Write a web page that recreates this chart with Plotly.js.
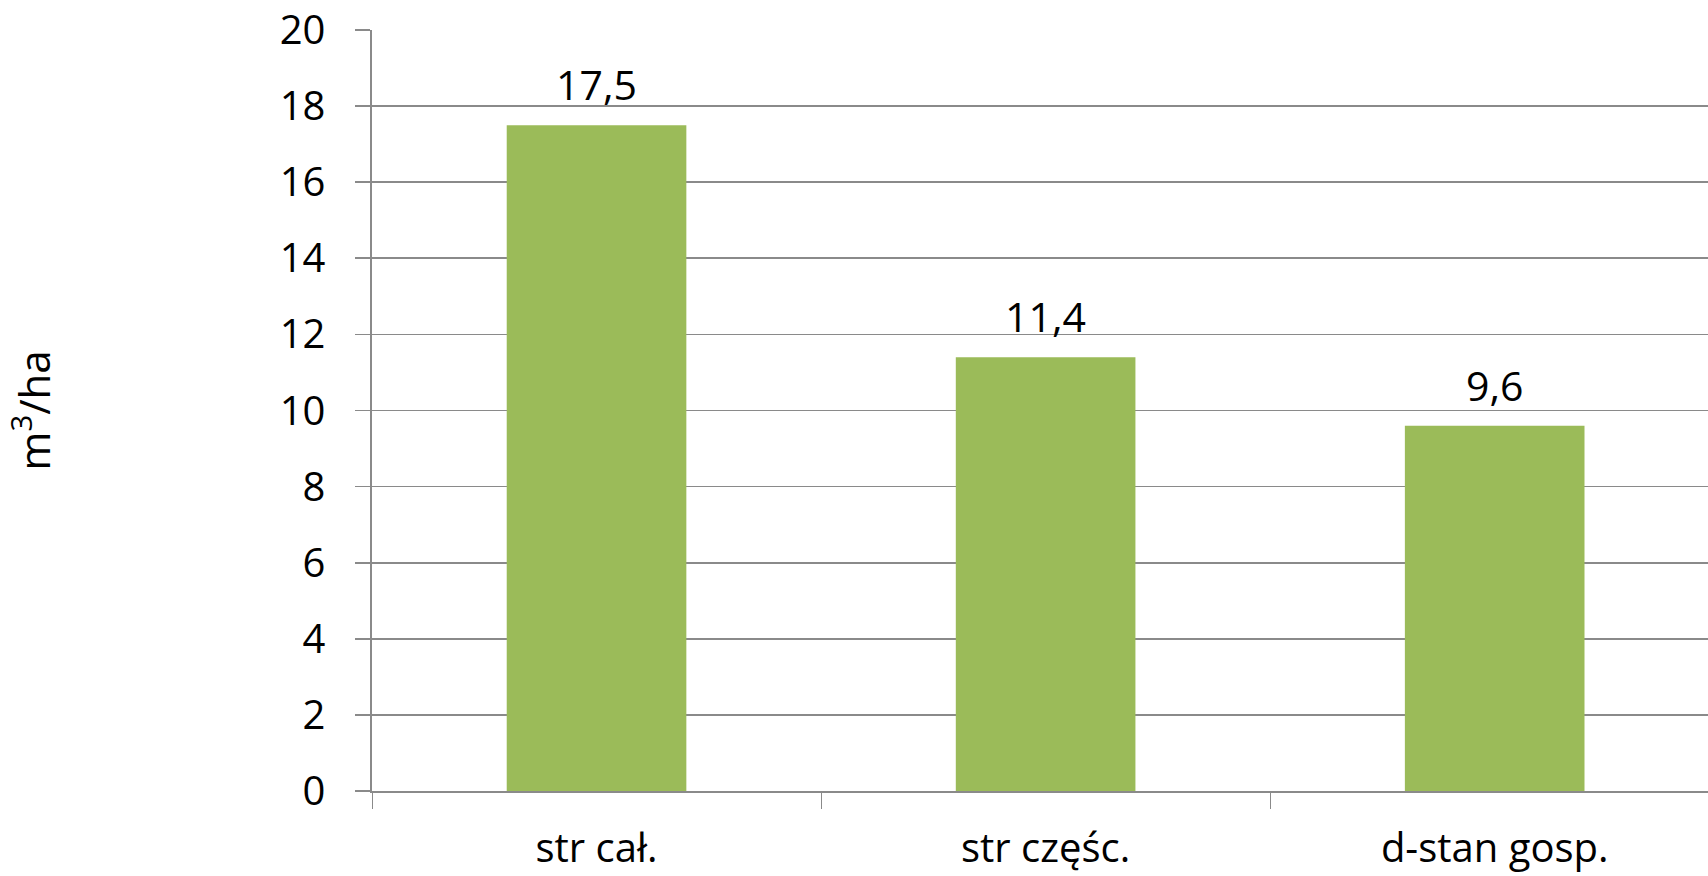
<!DOCTYPE html>
<html>
<head>
<meta charset="utf-8">
<script src="https://cdn.plot.ly/plotly-3.0.1.min.js"></script>
<style>html,body{margin:0;padding:0;background:#fff;}#chart{width:1708px;height:876px;}</style>
</head>
<body>
<div id="chart"></div>
<script>
const categories = ["str cał.", "str częśc.", "d-stan gosp."];
const values = [17.5, 11.4, 9.6];
const yTicks = [0, 2, 4, 6, 8, 10, 12, 14, 16, 18, 20];
const yTitle = "m<sup>3</sup>/ha";

const FONT = "Open Sans, sans-serif";
const GRID = "#8a8a8a";

const fmt = v => v.toFixed(1).replace(".", ",");

const trace = {
  type: "bar",
  x: categories,
  y: values,
  marker: {color: "#9BBB59"},
  width: 0.4,
  hoverinfo: "x+y"
};

const labelAnnotations = categories.map((c, i) => ({
  x: c, y: values[i], xref: "x", yref: "y",
  text: fmt(values[i]),
  showarrow: false,
  xanchor: "center", yanchor: "bottom",
  yshift: 11,
  font: {family: FONT, size: 41, color: "#000"}
}));

const layout = {
  width: 1708,
  height: 876,
  margin: {l: 372, r: 0, t: 30, b: 85},
  paper_bgcolor: "#fff",
  plot_bgcolor: "#fff",
  showlegend: false,
  font: {family: FONT, size: 40, color: "#000"},
  xaxis: {
    range: [-0.5, 2.475],
    showgrid: false,
    zeroline: false,
    showline: true,
    linecolor: GRID,
    linewidth: 1.6,
    ticks: "outside",
    tickson: "boundaries",
    ticklen: 16,
    tickcolor: GRID,
    tickwidth: 1,
    ticklabelstandoff: 21,
    tickfont: {family: FONT, size: 40, color: "#000"},
    fixedrange: true
  },
  yaxis: {
    range: [0, 20],
    tickvals: yTicks,
    ticktext: yTicks.map(String),
    showgrid: true,
    gridcolor: GRID,
    gridwidth: 1.6,
    zeroline: false,
    showline: true,
    linecolor: GRID,
    linewidth: 1.6,
    ticks: "outside",
    ticklen: 15,
    tickcolor: GRID,
    tickwidth: 1.6,
    ticklabelstandoff: 22,
    tickfont: {family: FONT, size: 40, color: "#000"},
    fixedrange: true
  },
  annotations: labelAnnotations.concat([{
    text: yTitle,
    xref: "paper", yref: "paper",
    x: -340 / 1336, y: 0.5,
    xanchor: "center", yanchor: "middle",
    textangle: -90,
    showarrow: false,
    font: {family: FONT, size: 42, color: "#000"}
  }])
};

Plotly.newPlot("chart", [trace], layout, {displayModeBar: false, staticPlot: true});
</script>
</body>
</html>
